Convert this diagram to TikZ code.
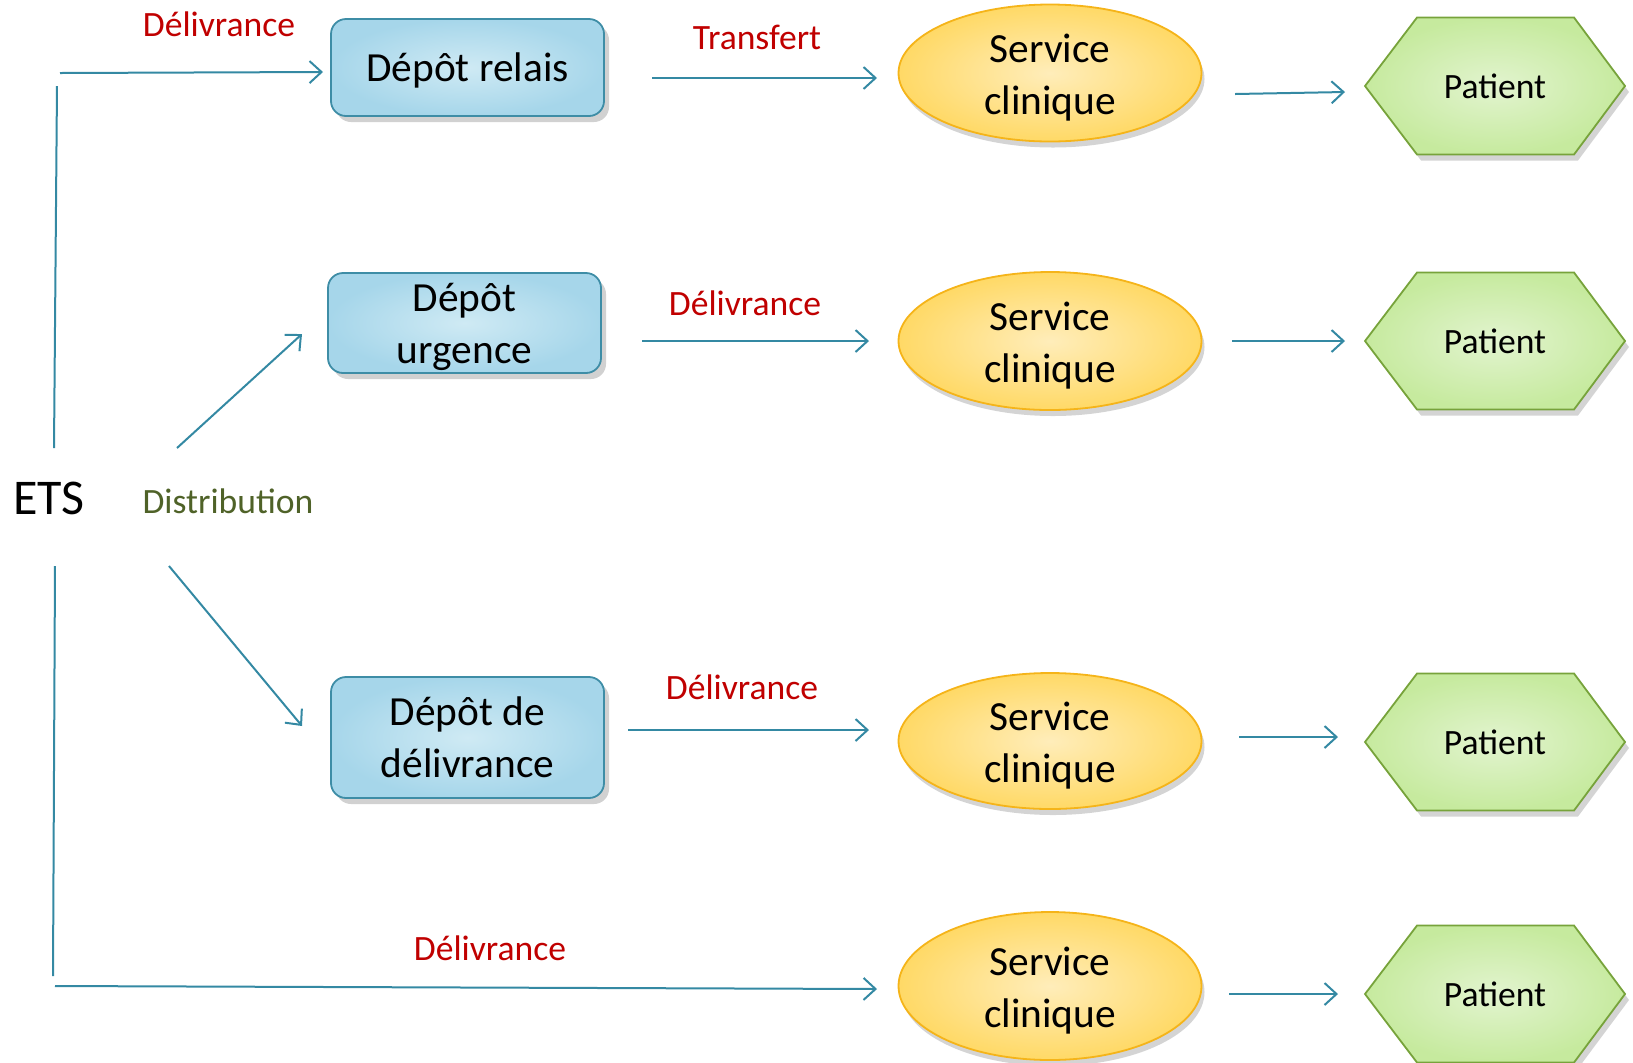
\documentclass[tikz,border=0pt]{standalone}
\usepackage{fontspec}
\setmainfont{Carlito}
\usetikzlibrary{shapes.geometric,shadows,arrows.meta}
\definecolor{flowc}{HTML}{3489A3}
\definecolor{boxb}{HTML}{3E8DA6}
\definecolor{boxo}{HTML}{A6D6EA}
\definecolor{boxi}{HTML}{CFEAF4}
\definecolor{ellb}{HTML}{F5B419}
\definecolor{ello}{HTML}{FFD966}
\definecolor{elli}{HTML}{FFEDBA}
\definecolor{hexb}{HTML}{77A33B}
\definecolor{hexo}{HTML}{C6EA9E}
\definecolor{hexi}{HTML}{E2F4CF}
\definecolor{redlab}{HTML}{C00000}
\definecolor{distc}{HTML}{4F6228}
\tikzset{
  flow/.style={draw=flowc, line width=1pt, -{Straight Barb[length=6pt,width=11pt,line width=1pt]}},
  link/.style={draw=flowc, line width=1pt},
  intext/.style={inner sep=0pt, align=center, font=\fontsize{20.7}{26}\selectfont},
  depot/.style={rectangle, rounded corners=7.5pt, draw=boxb, line width=0.9pt,
    shading=radial, inner color=boxi, outer color=boxo, minimum width=136.5pt,
    inner sep=0pt,
    drop shadow={shadow xshift=2.5pt, shadow yshift=-3pt, opacity=0.3, fill=black!60}},
  service/.style={ellipse, draw=ellb, line width=0.9pt,
    shading=radial, inner color=elli, outer color=ello, minimum width=151.5pt,
    inner sep=0pt,
    drop shadow={shadow xshift=1.5pt, shadow yshift=-3pt, opacity=0.28, fill=black!60}},
  hexshape/.style={draw=hexb, line width=0.9pt, shading=radial, inner color=hexi, outer color=hexo,
    drop shadow={shadow xshift=2pt, shadow yshift=-3pt, opacity=0.28, fill=black!60}},
  hextext/.style={inner sep=0pt, font=\fontsize{17.8}{21}\selectfont},
  redlabel/.style={inner sep=0pt, text=redlab, font=\fontsize{17.8}{21}\selectfont},
}
\newcommand\mkhex[3]{%
  \path[hexshape] (#2-130,#3) -- (#2-78,#3-68.5) -- (#2+79,#3-68.5) -- (#2+130,#3)
     -- (#2+79,#3+68.5) -- (#2-78,#3+68.5) -- cycle;
  \node[hextext] (#1) at (#2,#3) {Patient};
}
\begin{document}
\begin{tikzpicture}[x=0.5pt,y=-0.5pt]
\useasboundingbox (0,0) rectangle (1633,1062);
% nodes
\node[depot, minimum height=48.5pt, label={[intext, yshift=-1.5pt]center:{Dépôt relais}}] (box1) at (467.5,67.5) {};
\node[depot, minimum height=50pt, label={[intext, yshift=-2.2pt]center:{Dépôt\\urgence}}] (box2) at (464.5,323) {};
\node[depot, minimum height=60.5pt, label={[intext]center:{Dépôt de\\délivrance}}] (box3) at (467.5,737.5) {};
\node[service, minimum height=68.5pt, label={[intext, yshift=-2.2pt]center:{Service\\clinique}}] (ell1) at (1050,73) {};
\node[service, minimum height=69pt, label={[intext, yshift=-2.1pt]center:{Service\\clinique}}] (ell2) at (1050,341) {};
\node[service, minimum height=68pt, label={[intext, yshift=-2.1pt]center:{Service\\clinique}}] (ell3) at (1050,741) {};
\node[service, minimum height=74pt, label={[intext, yshift=-2.2pt]center:{Service\\clinique}}] (ell4) at (1050,986) {};
\mkhex{pat1}{1495}{86}
\mkhex{pat2}{1495}{341}
\mkhex{pat3}{1495}{742}
\mkhex{pat4}{1495}{994}
\node[inner sep=0pt, font=\fontsize{25}{30}\selectfont] (ets) at (49,498) {ETS};
\node[inner sep=0pt, text=distc, font=\fontsize{17.8}{21}\selectfont] (dist) at (228,501) {Distribution};
\node[redlabel] (lab1) at (219,24) {Délivrance};
\node[redlabel] (labT) at (757,37) {Transfert};
\node[redlabel] (lab2) at (745,303) {Délivrance};
\node[redlabel] (lab3) at (742,687) {Délivrance};
\node[redlabel] (lab4) at (490,948) {Délivrance};
% connector ends
\coordinate (a1s) at (60,73);   \coordinate (a1e) at (323,72);
\coordinate (v1s) at (57,86);   \coordinate (v1e) at (54,448);
\coordinate (d1s) at (177,448); \coordinate (d1e) at (302,334);
\coordinate (v2s) at (55,566);  \coordinate (v2e) at (53,976);
\coordinate (d2s) at (169,566); \coordinate (d2e) at (302,726);
\coordinate (a4s) at (55,986);  \coordinate (a4e) at (877,989);
\coordinate (r1s) at (652,78);  \coordinate (r1e) at (877,78);
\coordinate (p1s) at (1235,94); \coordinate (p1e) at (1345,92);
\coordinate (r2s) at (642,341); \coordinate (r2e) at (869,341);
\coordinate (p2s) at (1232,341);\coordinate (p2e) at (1345,341);
\coordinate (r3s) at (628,730); \coordinate (r3e) at (869,730);
\coordinate (p3s) at (1239,737);\coordinate (p3e) at (1338,737);
\coordinate (p4s) at (1229,994);\coordinate (p4e) at (1338,994);
% connectors
\draw[flow] (a1s) -- (a1e);
\draw[link] (v1s) -- (v1e);
\draw[flow] (d1s) -- (d1e);
\draw[link] (v2s) -- (v2e);
\draw[flow] (d2s) -- (d2e);
\draw[flow] (a4s) -- (a4e);
\draw[flow] (r1s) -- (r1e);
\draw[flow] (p1s) -- (p1e);
\draw[flow] (r2s) -- (r2e);
\draw[flow] (p2s) -- (p2e);
\draw[flow] (r3s) -- (r3e);
\draw[flow] (p3s) -- (p3e);
\draw[flow] (p4s) -- (p4e);
\end{tikzpicture}
\end{document}
